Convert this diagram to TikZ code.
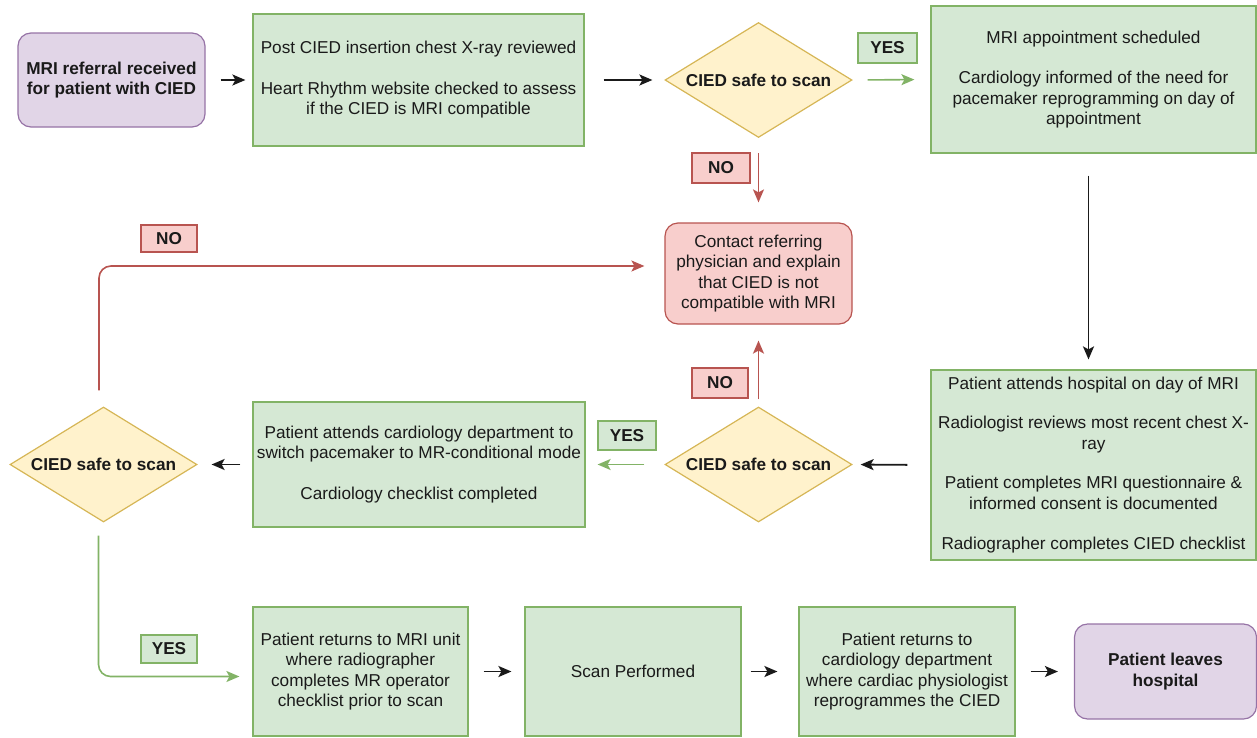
\documentclass[tikz,border=0pt]{standalone}
\usepackage{fontspec}
\setmainfont{Liberation Sans}
\usetikzlibrary{shapes.geometric,arrows.meta}
\definecolor{gfill}{HTML}{D5E8D4}
\definecolor{gdraw}{HTML}{82B366}
\definecolor{yfill}{HTML}{FFF2CC}
\definecolor{ydraw}{HTML}{D6B656}
\definecolor{rfill}{HTML}{F8CECC}
\definecolor{rdraw}{HTML}{B85450}
\definecolor{pfill}{HTML}{E1D5E7}
\definecolor{pdraw}{HTML}{9673A6}
\definecolor{ink}{HTML}{1A1A1A}
\tikzset{
  base/.style={align=center, inner sep=0pt, line width=1.2pt, text=ink,
    font=\fontsize{17.2}{20.5}\selectfont},
  gbox/.style={base, draw=gdraw, fill=gfill},
  pbox/.style={base, draw=pdraw, fill=pfill, rounded corners=13pt, font=\fontsize{17.2}{20.5}\selectfont\bfseries},
  rbox/.style={base, draw=rdraw, fill=rfill, rounded corners=13pt},
  dbox/.style={base, draw=ydraw, fill=yfill, diamond, aspect=1.626,
    minimum width=187pt, minimum height=115pt, font=\fontsize{17.2}{20.5}\selectfont\bfseries},
  ylab/.style={base, draw=gdraw, fill=gfill, font=\fontsize{17.2}{20.5}\selectfont\bfseries},
  nlab/.style={base, draw=rdraw, fill=rfill, font=\fontsize{17.2}{20.5}\selectfont\bfseries},
  arr/.style={line width=1.8pt, draw=ink, -{Stealth[length=13pt,width=11pt,inset=3pt]}},
  garr/.style={line width=1.6pt, draw=gdraw, -{Stealth[length=13pt,width=11pt,inset=3pt,color=gdraw]}},
  rarr/.style={line width=1.6pt, draw=rdraw, -{Stealth[length=13pt,width=11pt,inset=3pt,color=rdraw]}},
}
\begin{document}
\begin{tikzpicture}[x=1pt,y=-1pt]
\useasboundingbox (0,0) rectangle (1257,737);
% nodes
\node[pbox, minimum width=187pt, minimum height=94pt] (start) at (111.5,80)
  {MRI referral received\\for patient with CIED};
\node[gbox, minimum width=331pt, minimum height=132pt] (box1) at (418.5,80)
  {Post CIED insertion chest X-ray reviewed\\[20pt]Heart Rhythm website checked to assess\\if the CIED is MRI compatible};
\node[dbox] (dia1) at (758.5,80) {CIED safe to scan};
\node[gbox, minimum width=325pt, minimum height=147pt] (box2) at (1093.5,79.5)
  {MRI appointment scheduled\\[20pt]Cardiology informed of the need for\\pacemaker reprogramming on day of\\appointment};
\node[rbox, minimum width=187pt, minimum height=101pt] (contact) at (758.5,273.5)
  {Contact referring\\physician and explain\\that CIED is not\\compatible with MRI};
\node[gbox, minimum width=325pt, minimum height=190pt] (box3) at (1093.5,465)
  {Patient attends hospital on day of MRI\\[19pt]Radiologist reviews most recent chest X-\\ray\\[19pt]Patient completes MRI questionnaire \&\\informed consent is documented\\[20pt]Radiographer completes CIED checklist};
\node[dbox] (dia2) at (758.5,464.5) {CIED safe to scan};
\node[gbox, minimum width=332pt, minimum height=125pt] (box4) at (419,464.5)
  {Patient attends cardiology department to\\switch pacemaker to MR-conditional mode\\[20pt]Cardiology checklist completed};
\node[dbox] (dia3) at (103.5,464.5) {CIED safe to scan};
\node[gbox, minimum width=215pt, minimum height=129pt] (box5) at (360.5,671.5)
  {Patient returns to MRI unit\\where radiographer\\completes MR operator\\checklist prior to scan};
\node[gbox, minimum width=216pt, minimum height=129pt] (box6) at (633,671.5)
  {Scan Performed};
\node[gbox, minimum width=216pt, minimum height=129pt] (box7) at (907,671.5)
  {Patient returns to\\cardiology department\\where cardiac physiologist\\reprogrammes the CIED};
\node[pbox, minimum width=182pt, minimum height=95pt] (end) at (1165.5,671.5)
  {Patient leaves\\hospital};
% labels
\node[ylab, minimum width=59pt, minimum height=30pt] (yes1) at (887.5,48) {YES};
\node[nlab, minimum width=58pt, minimum height=30pt] (no1) at (721,168) {NO};
\node[nlab, minimum width=56pt, minimum height=30pt] (no2) at (720,383) {NO};
\node[ylab, minimum width=58pt, minimum height=29pt] (yes2) at (627,435.5) {YES};
\node[nlab, minimum width=56pt, minimum height=27pt] (no3) at (169,238.5) {NO};
\node[ylab, minimum width=56pt, minimum height=28pt] (yes3) at (169,649) {YES};
% connectors
\draw[arr, shorten <=15pt, shorten >=7pt] (start.east) -- (box1.west);
\draw[arr, shorten <=19pt, shorten >=12pt] (box1.east) -- (dia1.west);
\draw[garr, shorten <=15pt, shorten >=16pt] (dia1.east) -- (box2.west);
\draw[rarr, shorten <=15pt, shorten >=20pt] (dia1.south) -- (contact.north);
\draw[arr, shorten <=22pt, shorten >=10pt] ([xshift=-5pt]box2.south) -- ([xshift=-5pt]box3.north);
\draw[arr, shorten <=23pt, shorten >=8pt] (box3.west) -- (dia2.east);
\draw[rarr, shorten <=7pt, shorten >=16pt] (dia2.north) -- (contact.south);
\draw[garr, shorten <=20pt, shorten >=12pt] (dia2.west) -- (box4.east);
\draw[arr, shorten <=12pt, shorten >=14pt] (box4.west) -- (dia3.east);
\draw[rarr, rounded corners=12pt, shorten <=16pt, shorten >=20pt]
  ([xshift=-4.5pt]dia3.north) |- ([yshift=7.5pt]contact.west);
\draw[garr, rounded corners=12pt, shorten <=13pt, shorten >=13pt]
  ([xshift=-5pt]dia3.south) |- ([yshift=-5pt]box5.west);
\draw[arr, shorten <=15pt, shorten >=13pt] (box5.east) -- (box6.west);
\draw[arr, shorten <=9pt, shorten >=21pt] (box6.east) -- (box7.west);
\draw[arr, shorten <=15pt, shorten >=16pt] (box7.east) -- (end.west);
\end{tikzpicture}
\end{document}
